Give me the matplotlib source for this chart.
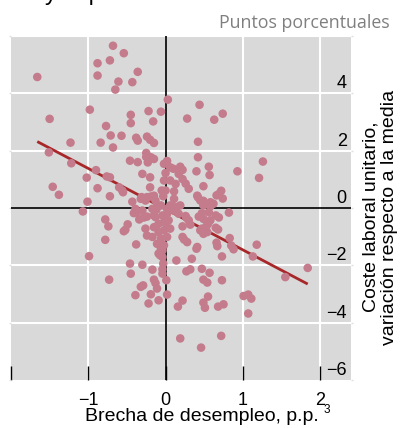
import matplotlib
matplotlib.use("Agg")
import matplotlib.pyplot as plt
import matplotlib.transforms as mtransforms
import numpy as np

# ---------------- data ----------------
points = [
    (-0.68, 5.66), (-0.54, 5.40), (-0.88, 5.05), (-0.72, 5.15), (-1.66, 4.57), (-0.88, 4.62),
    (-0.36, 4.75), (-0.61, 4.41), (-0.43, 4.39), (-0.65, 4.13),
    (0.03, 3.78), (-0.98, 3.43), (-1.50, 3.11), (-0.45, 3.25), (-0.22, 3.38), (-0.06, 3.36),
    (-0.16, 3.02), (-0.45, 2.96), (0.28, 3.12), (0.44, 3.60), (0.74, 3.29), (0.63, 3.08),
    (-0.77, 2.86), (-0.71, 2.53), (-0.57, 2.52), (-1.23, 2.28), (-0.84, 2.28), (-0.68, 2.11),
    (-0.38, 2.45), (-0.36, 2.35), (-0.24, 2.49), (-0.20, 2.38), (-0.15, 2.27), (0.42, 2.31),
    (-1.51, 1.94), (-0.25, 1.92), (-0.25, 1.78), (-0.19, 1.77), (-0.15, 1.71), (-0.23, 1.59),
    (-0.46, 1.65), (-0.36, 1.60), (-1.22, 1.56), (0.42, 1.77), (-0.02, 1.54), (0.02, 1.64),
    (0.06, 1.42), (0.10, 1.37), (0.19, 1.44), (0.22, 1.33), (-0.90, 1.32), (-0.76, 1.10),
    (-0.72, 1.07), (-1.02, 1.06), (-0.30, 1.19), (-0.20, 1.07), (0.17, 1.19), (0.22, 1.01),
    (0.40, 1.28), (0.56, 1.44), (0.57, 1.15), (0.93, 1.28), (1.26, 1.62), (1.21, 1.05),
    (0.00, 1.22),
    (0.26, 0.85), (-1.46, 0.74), (-1.38, 0.46), (-0.88, 0.69), (-0.60, 0.72), (-0.56, 0.61),
    (-0.55, 0.55), (-0.72, 0.41), (-0.20, 0.72), (-0.05, 0.61), (0.00, 0.61), (0.11, 0.58),
    (-0.03, 0.41), (-1.01, 0.22), (-0.43, 0.22), (-0.31, 0.38), (-0.19, 0.40), (0.42, 0.37),
    (0.30, 0.67), (0.49, 0.76), (0.72, 0.60), (0.69, 0.49), (0.66, 0.44), (0.74, 0.33),
    (0.49, 0.25), (0.41, 0.43), (0.45, 0.26), (0.49, 0.09), (0.58, 0.20), (0.62, 0.15),
    (0.58, 0.06), (-0.32, 0.32), (-0.26, 0.26), (-0.13, 0.26), (-0.06, 0.09), (0.06, 0.09),
    (-0.39, -0.03), (-0.30, -0.09), (-0.12, -0.06), (0.11, -0.09),
    (-0.02, 0.96), (0.06, 0.96), (0.13, 0.84), (-0.24, 0.38), (-0.15, 0.43), (-0.17, -0.03),
    (-0.11, 0.03), (0.02, -0.03), (0.13, 0.03), (0.19, 0.09), (0.11, 0.32),
    (-1.07, -0.12), (0.82, -0.16), (0.47, -0.18), (0.56, -0.15), (0.55, -0.55), (0.58, -0.43),
    (0.65, -0.26), (0.69, -0.33), (0.53, -0.63), (0.65, -0.69), (0.68, -0.75), (-0.78, -0.40),
    (-0.74, -0.64), (-0.49, -0.57), (-0.52, -0.76), (-0.54, -0.81), (-0.37, -0.15), (-0.34, -0.40),
    (-0.28, -0.33), (-0.24, -0.30), (0.22, -0.64), (0.26, -0.28), (0.30, -0.43), (0.32, -0.58),
    (0.43, -0.30), (0.45, -0.78), (0.49, -0.90), (0.17, -0.20), (0.27, -0.34), (-0.41, -0.18),
    (-0.15, -0.26), (-0.13, -0.32), (-0.04, -0.26), (0.02, -0.20), (-0.02, -0.49), (0.04, -0.43),
    (-0.09, -0.55), (-0.15, -0.67), (-0.26, -0.72), (-0.24, -0.96), (-0.17, -1.01), (-0.09, -0.84),
    (-0.02, -0.78), (0.02, -0.67), (0.06, -0.72), (0.13, -0.09), (0.47, -0.72), (0.49, -0.38),
    (0.54, -0.84),
    (0.83, -1.05), (0.66, -1.21), (0.67, -1.33), (0.85, -1.31), (0.88, -1.44), (1.18, -1.28),
    (1.13, -1.69), (0.73, -1.69), (-0.78, -1.11), (-0.38, -1.27), (-0.99, -1.68), (-0.46, -1.94),
    (-0.30, -1.98), (0.34, -1.77), (0.14, -1.83), (0.40, -1.42), (-0.04, -1.48), (-0.07, -1.65),
    (0.22, -1.01), (0.28, -1.19), (0.24, -1.10), (0.41, -1.36), (-0.04, -1.71), (-0.09, -1.59),
    (-0.06, -1.42), (-0.06, -1.07), (0.02, -1.01), (-0.11, -1.25), (-0.02, -1.30),
    (-0.17, -2.15), (-0.45, -2.29), (-0.73, -2.50), (-0.15, -2.50), (-0.13, -2.62), (-0.04, -2.14),
    (-0.03, -1.94), (0.01, -2.52), (-0.29, -2.70), (-0.32, -2.75), (0.32, -2.14), (0.27, -2.21),
    (0.47, -2.12), (0.57, -2.26), (0.49, -2.50), (0.54, -2.60), (0.73, -2.52), (1.55, -2.41),
    (1.84, -2.09), (-0.04, -2.29), (-0.11, -2.81),
    (0.55, -3.09), (0.49, -3.30), (0.51, -3.48), (0.68, -3.44), (0.75, -3.36), (1.01, -3.07),
    (1.07, -3.02), (1.11, -3.16), (1.07, -3.68), (0.72, -4.46), (0.46, -4.87), (-0.39, -3.04),
    (-0.19, -3.01), (-0.09, -3.22), (-0.22, -3.33), (0.02, -3.02), (0.22, -3.23), (0.16, -3.44),
    (0.19, -4.55),
]
unemp_gap = [p[0] for p in points]
ulc_dev = [p[1] for p in points]

fit_slope = -1.42
fit_intercept = -0.04

xtick_vals = [-2, -1, 0, 1, 2]
xtick_labels = ["", "\u22121", "0", "1", "2"]
ytick_vals = [-6, -4, -2, 0, 2, 4]
ytick_labels = ["\u22126", "\u22124", "\u22122", "0", "2", "4"]

# ---------------- style ----------------
plt.rcParams["font.family"] = ["Liberation Sans", "DejaVu Sans"]
W, H = 401, 428
fig = plt.figure(figsize=(W / 100, H / 100), dpi=100)
fig.patch.set_facecolor("white")

l, r, t, b = 11, 351, 36, 380
ax = fig.add_axes([l / W, 1 - b / H, (r - l) / W, (b - t) / H])
ax.set_facecolor("#d9d9d9")
for s in ax.spines.values():
    s.set_visible(False)

ax.set_xlim(-2, 2.4)
ax.set_ylim(-6, 6)

# grid
for gx in [-1, 1, 2]:
    ax.axvline(gx, color="white", lw=1.5, zorder=1)
for gy in [-4, -2, 2, 4, 6]:
    ax.axhline(gy, color="white", lw=1.5, zorder=1)
ax.axhline(0, color="black", lw=1.2, zorder=2)
ax.axvline(0, color="black", lw=1.2, zorder=2)

# fit line
xf = np.array([min(unemp_gap), max(unemp_gap)])
ax.plot(xf, fit_intercept + fit_slope * xf, color="#a8282a", lw=2.0, zorder=3,
        solid_capstyle="butt")

# scatter
ax.scatter(unemp_gap, ulc_dev, s=38, color="#c47b8c", edgecolors="none", zorder=4)

# ticks
ax.set_xticks(xtick_vals)
ax.set_xticklabels(xtick_labels, fontsize=13)
ax.tick_params(axis="x", direction="in", length=10, width=1, color="black", pad=8.5)
ax.set_yticks([-6, -4, -2, 0, 2, 4, 6])
ax.set_yticklabels([])
ax.tick_params(axis="y", left=True, right=True, direction="out", length=1.5,
               width=1, color="#e0e0e0")

trans = mtransforms.blended_transform_factory(ax.transAxes, ax.transData)
for v, lab in zip(ytick_vals, ytick_labels):
    ax.annotate(lab, xy=(1, v), xycoords=trans, xytext=(-3, 3.5),
                textcoords="offset points", ha="right", va="baseline",
                fontsize=13, color="black", zorder=5)

# labels
fig.text(202 / W, 1 - 421 / H, "Brecha de desempleo, p.p.", ha="center",
         va="baseline", fontsize=14)
fig.text(324 / W, 1 - 413 / H, "3", ha="left", va="baseline", fontsize=8.5)
fig.text(380 / W, 1 - 217 / H, "Coste laboral unitario,\nvariación respecto a la media",
         rotation=90, ha="center", va="center", multialignment="center", fontsize=14,
         linespacing=1.15)
fig.text(390 / W, 1 - 28.5 / H, "Puntos porcentuales", ha="right", va="baseline",
         fontsize=12.8, color="#7f7f7f", family=["Open Sans", "DejaVu Sans"])
fig.text(45 / W, 1.0, "y la productividad", ha="left", va="baseline",
         fontsize=17, color="black")

fig.savefig("out.png", dpi=100)
